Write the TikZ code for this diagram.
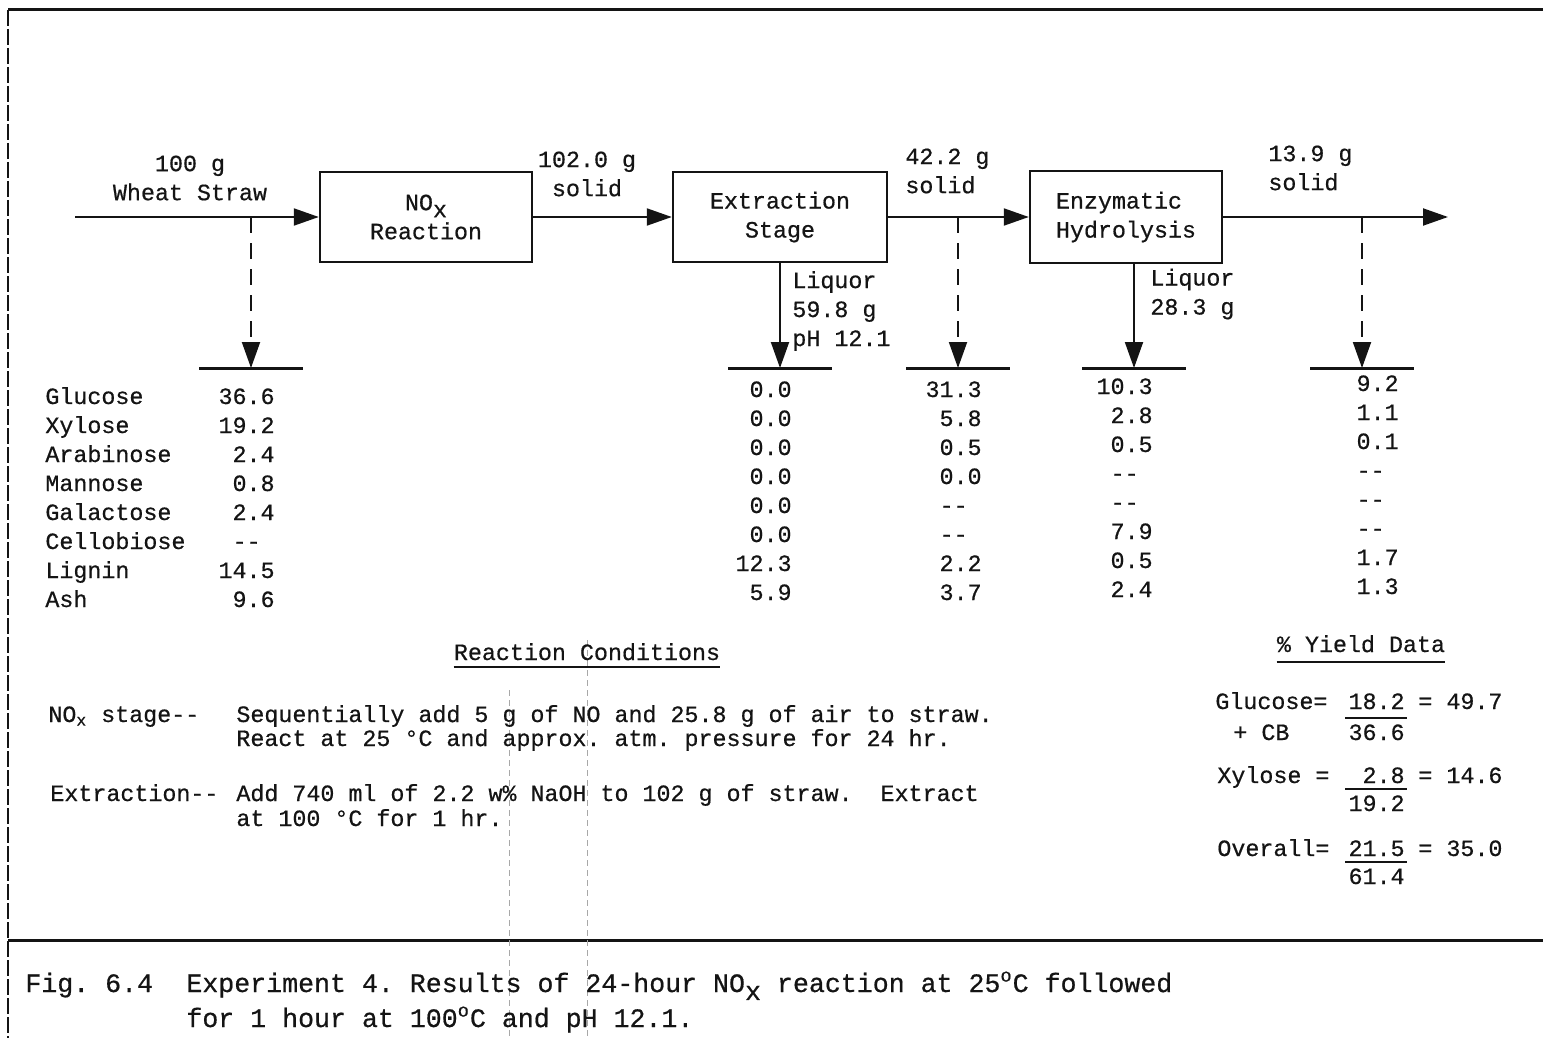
\documentclass[tikz,border=0pt]{standalone}
\usepackage{fontspec}
\setmonofont{Liberation Mono}[UprightFeatures={FakeBold=0.6}]
\usepackage{tikz}
\usetikzlibrary{arrows.meta}
\definecolor{ink}{HTML}{141414}
\definecolor{scan}{HTML}{A8A8A8}
\newcommand{\nd}{--\phantom{0}}
\newcommand{\subx}{\raisebox{-0.3em}{x}}

\begin{document}
\begin{tikzpicture}[x=0.5pt,y=-0.5pt,
  txt/.style={font=\ttfamily\fontsize{11.67}{14.5}\selectfont, text=ink, inner sep=0pt},
  figtxt/.style={font=\ttfamily\fontsize{13.3}{16}\selectfont, text=ink, inner sep=0pt},
  box/.style={txt, draw=ink, line width=1.2pt, minimum width=106pt, minimum height=45pt, align=center},
  flow/.style={draw=ink, line width=1pt, -{Triangle[length=12.5pt,width=8.5pt]}},
  drop/.style={draw=ink, line width=1pt, -{Triangle[length=13pt,width=9pt]}},
  bar/.style={draw=ink, line width=1.5pt},
  rule/.style={draw=ink, line width=0.9pt}]
\useasboundingbox (0,0) rectangle (1543,1038);

% frame
\draw[ink, line width=1.5pt] (8,10) -- (1543,10);
\draw[ink, line width=0.8pt, dash pattern=on 8pt off 1.5pt] (8,10) -- (8,1038);
\draw[ink, line width=1.5pt] (8,940) -- (1543,940);
\draw[scan, line width=0.4pt, densely dashed] (509,690) -- (509,1038);
\draw[scan, line width=0.4pt, densely dashed] (587,640) -- (587,1038);

% process units
\node[box] (nox) at (426,217) {NO\subx\\Reaction};
\node[box, minimum width=107pt] (extr) at (780,217) {Extraction\\Stage};
\node[box, minimum width=96pt, minimum height=46pt, align=left] (enz) at (1126,217) {Enzymatic\\Hydrolysis};

\coordinate (feedin) at (75,217);
\coordinate (prodout) at (1448,217);
\coordinate (s0) at (251,217);
\coordinate (s2) at (958,217);
\coordinate (s4) at (1362,217);
\coordinate (b0) at (251,368);
\coordinate (b1) at (780,368);
\coordinate (b2) at (958,368);
\coordinate (b3) at (1134,368);
\coordinate (b4) at (1362,368);

\draw[flow] (feedin) -- (nox);
\draw[flow] (nox) -- (extr);
\draw[flow] (extr) -- (enz);
\draw[flow] (enz) -- (prodout);
\draw[drop, dash pattern=on 8pt off 5pt] (s0) -- (b0);
\draw[drop, dash pattern=on 8pt off 5pt] (s2) -- (b2);
\draw[drop, dash pattern=on 8pt off 5pt] (s4) -- (b4);
\draw[drop] (extr.south) -- (b1);
\draw[drop] (enz.south -| b3) -- (b3);
\foreach \b in {b0,b1,b2,b3,b4}
  \draw[bar] (\b) ++(-52,0) -- ++(104,0);

% stream labels
\node[txt, align=center] (feed) at (190,178) {100 g\\Wheat Straw};
\node[txt, align=center] (m1) at (587,174) {102.0 g\\solid};
\node[txt, align=left, anchor=west] (m2) at (905,171) {42.2 g\\solid};
\node[txt, align=left, anchor=west] (m3) at (1268,168) {13.9 g\\solid};
\node[txt, align=left, anchor=west] (liq1) at (792,311) {Liquor\\59.8 g\\pH 12.1};
\node[txt, align=left, anchor=west] (liq2) at (1150,294) {Liquor\\28.3 g};

% composition table
\foreach \n [count=\i] in {Glucose,Xylose,Arabinose,Mannose,Galactose,Cellobiose,Lignin,Ash}
  \node[txt, anchor=base west] at (45,{404+29*(\i-1)}) {\n};
\foreach \v [count=\i] in {36.6,19.2,2.4,0.8,2.4,\nd,14.5,9.6}
  \node[txt, anchor=base east] at (275,{404+29*(\i-1)}) {\v};
\foreach \v [count=\i] in {0.0,0.0,0.0,0.0,0.0,0.0,12.3,5.9}
  \node[txt, anchor=base east] at (792,{397+29*(\i-1)}) {\v};
\foreach \v [count=\i] in {31.3,5.8,0.5,0.0,\nd,\nd,2.2,3.7}
  \node[txt, anchor=base east] at (982,{397+29*(\i-1)}) {\v};
\foreach \v [count=\i] in {10.3,2.8,0.5,\nd,\nd,7.9,0.5,2.4}
  \node[txt, anchor=base east] at (1153,{394+29*(\i-1)}) {\v};
\foreach \v [count=\i] in {9.2,1.1,0.1,\nd,\nd,\nd,1.7,1.3}
  \node[txt, anchor=base east] at (1399,{391+29*(\i-1)}) {\v};

% reaction conditions
\node[txt, anchor=base] (rc) at (587,660) {Reaction Conditions};
\draw[rule] ([yshift=-3.5pt]rc.base west) -- ([yshift=-3.5pt]rc.base east);
\node[txt, anchor=base west] (c1) at (48,722) {NO\textsubscript{x} stage--};
\node[txt, anchor=base west] (c1a) at (236,722) {Sequentially add 5 g of NO and 25.8 g of air to straw.};
\node[txt, anchor=base west] (c1b) at (236,746) {React at 25 °C and approx. atm. pressure for 24 hr.};
\node[txt, anchor=base west] (c2) at (50,801) {Extraction--};
\node[txt, anchor=base west] (c2a) at (236,801) {Add 740 ml of 2.2 w\% NaOH to 102 g of straw.~~Extract};
\node[txt, anchor=base west] (c2b) at (236,826) {at 100 °C for 1 hr.};

% yield data
\node[txt, anchor=base] (yd) at (1361,652) {\% Yield Data};
\draw[rule] ([yshift=-5pt]yd.base west) -- ([yshift=-5pt]yd.base east);
\node[txt, anchor=base west] (y1) at (1215,709) {Glucose=};
\node[txt, anchor=base west] (y1c) at (1233,740) {+ CB};
\node[txt, anchor=base east] (y1n) at (1405,709) {18.2};
\node[txt, anchor=base east] (y1d) at (1405,740) {36.6};
\node[txt, anchor=base west] (y1r) at (1418,709) {= 49.7};
\node[txt, anchor=base west] (y2) at (1217,783) {Xylose =};
\node[txt, anchor=base east] (y2n) at (1405,783) {2.8};
\node[txt, anchor=base east] (y2d) at (1405,811) {19.2};
\node[txt, anchor=base west] (y2r) at (1418,783) {= 14.6};
\node[txt, anchor=base west] (y3) at (1217,856) {Overall=};
\node[txt, anchor=base east] (y3n) at (1405,856) {21.5};
\node[txt, anchor=base east] (y3d) at (1405,884) {61.4};
\node[txt, anchor=base west] (y3r) at (1418,856) {= 35.0};
\foreach \d in {y1d,y2d,y3d}
  \draw[rule] ([xshift=-1.5pt,yshift=3pt]\d.north west) -- ([xshift=1pt,yshift=3pt]\d.north east);

% caption
\node[figtxt, anchor=base west] (fig) at (25,992) {Fig. 6.4};
\node[figtxt, anchor=base west] (cap1) at (186,992) {Experiment 4. Results of 24-hour NO\subx{} reaction at 25\textsuperscript{o}C followed};
\node[figtxt, anchor=base west] (cap2) at (186,1027) {for 1 hour at 100\textsuperscript{o}C and pH 12.1.};
\end{tikzpicture}
\end{document}
